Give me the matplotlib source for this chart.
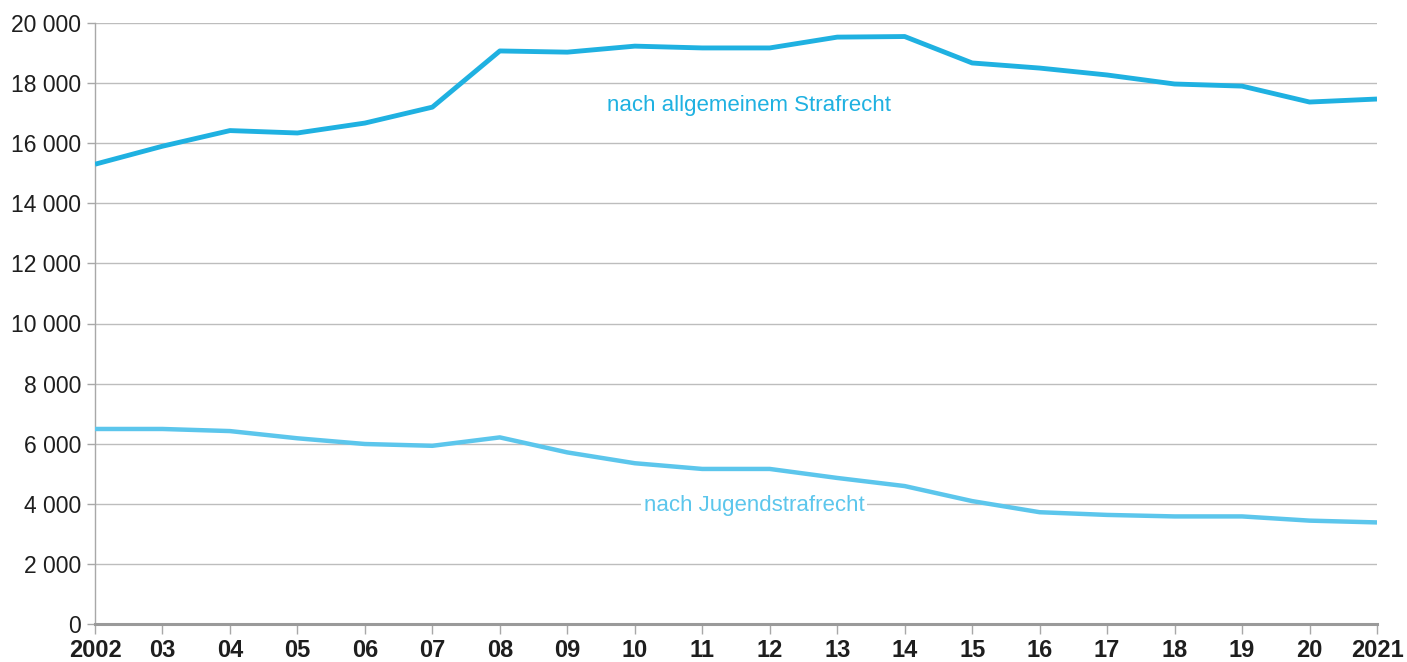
import matplotlib
matplotlib.use("Agg")
import matplotlib.pyplot as plt
from matplotlib.ticker import FuncFormatter

years = list(range(2002, 2022))
year_labels = ["2002", "03", "04", "05", "06", "07", "08", "09", "10", "11",
               "12", "13", "14", "15", "16", "17", "18", "19", "20", "2021"]
allgemein = [15300, 15900, 16420, 16340, 16670, 17200, 19070, 19030, 19230, 19170,
             19170, 19530, 19550, 18670, 18500, 18270, 17970, 17900, 17370, 17470]
jugend = [6490, 6490, 6420, 6180, 5990, 5930, 6210, 5710, 5350, 5160,
          5160, 4860, 4590, 4090, 3720, 3630, 3580, 3580, 3440, 3380]

c_top = "#1fb1e1"
c_bot = "#5cc6ec"

plt.rcParams['font.family'] = ['Liberation Sans', 'DejaVu Sans']

fig = plt.figure(figsize=(14.07, 6.62), dpi=100)
ax = fig.add_axes([95/1407, 38/662, (1377-95)/1407, (624-23)/662])

ax.plot(years, allgemein, color=c_top, lw=3.5, solid_capstyle='butt', zorder=3)
ax.plot(years, jugend, color=c_bot, lw=3.2, solid_capstyle='butt', zorder=3)

ax.set_xlim(2002, 2021)
ax.set_ylim(0, 20000)
ax.set_yticks(range(0, 20001, 2000))
ax.yaxis.set_major_formatter(FuncFormatter(lambda v, p: f"{int(v):,}".replace(",", " ")))
ax.set_xticks(years)
ax.set_xticklabels(year_labels, fontweight='bold')

ax.grid(axis='y', color='#bdbdbd', lw=1.0, zorder=0)
ax.set_axisbelow(True)
for s in ['top', 'right']:
    ax.spines[s].set_visible(False)
ax.spines['left'].set_color('#a8a8a8')
ax.spines['left'].set_linewidth(1.0)
ax.spines['bottom'].set_color('#9a9a9a')
ax.spines['bottom'].set_linewidth(2.2)

ax.tick_params(axis='y', length=6, width=1, color='#a8a8a8', labelsize=16.5,
               labelcolor='#1e1e1e', pad=4)
ax.tick_params(axis='x', length=7, width=1, color='#a8a8a8', labelsize=17,
               labelcolor='#1e1e1e', pad=4)

ax.text(2011.70, 17270, "nach allgemeinem Strafrecht", color=c_top, fontsize=16,
        ha='center', va='center', zorder=4)
ax.text(2011.77, 3930, "nach Jugendstrafrecht", color=c_bot, fontsize=16,
        ha='center', va='center', zorder=4,
        bbox=dict(facecolor='white', edgecolor='none', pad=2))

fig.savefig("out.png", dpi=100)
